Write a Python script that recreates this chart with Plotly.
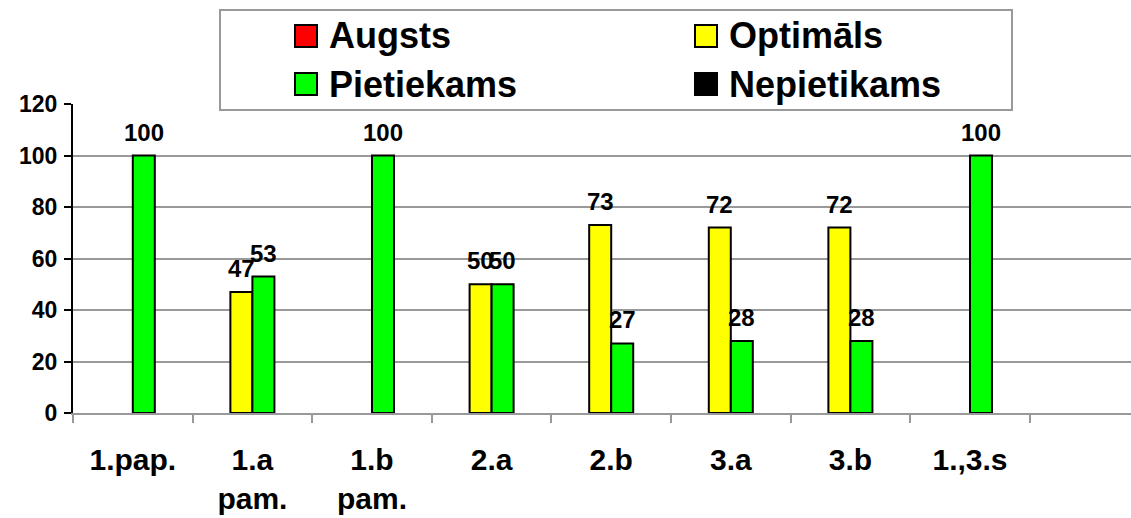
import plotly.graph_objects as go

categories = ["1.pap.", "1.a pam.", "1.b pam.", "2.a", "2.b", "3.a", "3.b", "1.,3.s"]
series_names = ["Augsts", "Optimāls", "Pietiekams", "Nepietikams"]
augsts = [None, None, None, None, None, None, None, None]
optimals = [None, 47, None, 50, 73, 72, 72, None]
pietiekams = [100, 53, 100, 50, 27, 28, 28, 100]
nepietikams = [None, None, None, None, None, None, None, None]
series_values = [augsts, optimals, pietiekams, nepietikams]
colors = ["#FF0000", "#FFFF00", "#00FF00", "#000000"]
y_ticks = [0, 20, 40, 60, 80, 100, 120]

W, H = 1131, 518
ML, MR, MT, MB = 73, 0, 104, 105
BARGAP = 0.264
FONT = "Liberation Sans, Arial, sans-serif"
n_cat = len(categories)
x_idx = list(range(n_cat))
x_max = -0.5 + (W - ML - MR) / 119.6

fig = go.Figure()
for name, vals, col in zip(series_names, series_values, colors):
    fig.add_trace(go.Bar(
        x=x_idx, y=vals, name=name,
        marker=dict(color=col, line=dict(color="black", width=2)),
        showlegend=False,
    ))

# data labels
n_ser = len(series_names)
slot = (1 - BARGAP) / n_ser
annotations = []
for k, vals in enumerate(series_values):
    for i, v in enumerate(vals):
        if v is None:
            continue
        annotations.append(dict(
            x=i + (k - (n_ser - 1) / 2) * slot, y=v, xref="x", yref="y",
            text=f"<b>{v}</b>", showarrow=False, yanchor="bottom", yshift=8,
            font=dict(family=FONT, size=24, color="black"),
        ))

# custom legend box
pw, ph = W - ML - MR, H - MT - MB
def px(x):
    return (x - ML) / pw
def py(y):
    return (H - MB - y) / ph

shapes = [dict(type="rect", xref="paper", yref="paper", x0=px(220), x1=px(1012),
               y0=py(110), y1=py(10), line=dict(color="#999999", width=2),
               fillcolor="white", layer="above")]
leg_pos = [(295, 25), (695, 25), (295, 73), (695, 73)]
for (lx, ly), name, col in zip(leg_pos, series_names, colors):
    shapes.append(dict(type="rect", xref="paper", yref="paper",
                       x0=px(lx), x1=px(lx + 22), y0=py(ly + 22), y1=py(ly),
                       fillcolor=col, line=dict(color="black", width=2), layer="above"))
    annotations.append(dict(x=px(lx + 32), y=py(ly + 11), xref="paper", yref="paper",
                            text=f"<b>{name}</b>", showarrow=False, xanchor="left",
                            yanchor="middle", font=dict(family=FONT, size=36, color="black")))

tick_text = ["<b>" + c.replace(" ", "<br>") + "</b>" for c in categories]

fig.update_layout(
    width=W, height=H,
    margin=dict(l=ML, r=MR, t=MT, b=MB, autoexpand=False),
    paper_bgcolor="white", plot_bgcolor="white",
    barmode="group", bargap=BARGAP, bargroupgap=0,
    shapes=shapes, annotations=annotations,
    showlegend=False,
    font=dict(family=FONT, color="black"),
)
fig.update_xaxes(
    range=[-0.5, x_max], automargin=False,
    tickmode="array", tickvals=x_idx, ticktext=tick_text, ticks="",
    tickfont=dict(family=FONT, size=30, color="black"),
    ticklabelstandoff=19,
    showgrid=False, zeroline=False,
    showline=True, linecolor="#999999", linewidth=2,
    minor=dict(tickmode="array", tickvals=[i - 0.5 for i in range(n_cat + 2)],
               ticks="outside", ticklen=8, tickcolor="#999999", tickwidth=2, showgrid=False),
)
fig.update_yaxes(
    range=[0, 120], tickmode="array", tickvals=y_ticks, automargin=False,
    ticktext=[f"<b>{t}</b>" for t in y_ticks],
    tickfont=dict(family=FONT, size=23, color="black"),
    ticklabelstandoff=2,
    ticks="outside", ticklen=7, tickcolor="black", tickwidth=2,
    showline=True, linecolor="black", linewidth=2,
    showgrid=True, gridcolor="#999999", gridwidth=2, zeroline=False,
)

fig.write_html("out.html", config={"displayModeBar": False},
               post_script="document.body.style.margin='0';document.body.style.overflow='hidden';")
